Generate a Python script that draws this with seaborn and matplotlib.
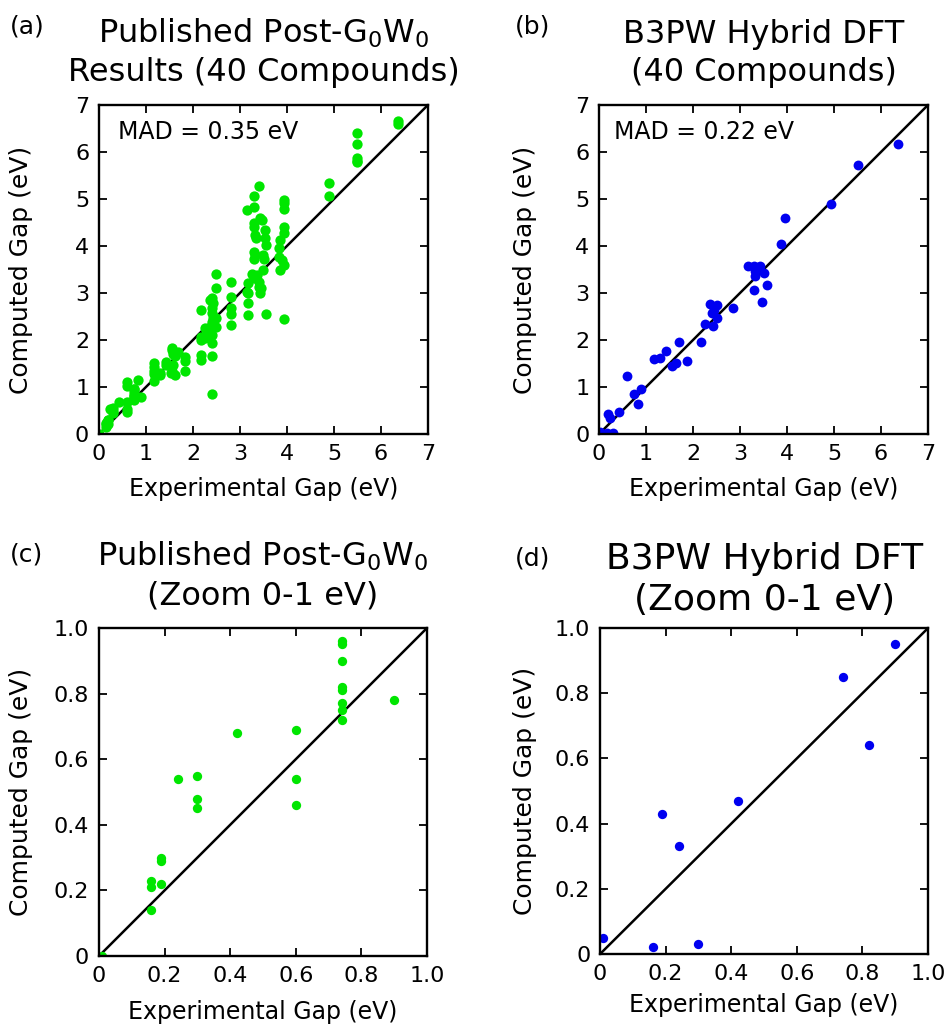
import matplotlib
matplotlib.use("Agg")
import matplotlib.pyplot as plt
import pandas as pd
import seaborn as sns

# published post-G0W0 results: experimental gap vs computed gap (eV)
gw_exp = [
    0.01,
    0.16, 0.16, 0.16,
    0.19, 0.19, 0.19,
    0.24,
    0.30, 0.30, 0.30,
    0.42,
    0.60, 0.60, 0.60, 0.60, 0.60,
    0.74, 0.74, 0.74, 0.74, 0.74, 0.74, 0.74, 0.74,
    0.82,
    0.90,
    1.17, 1.17, 1.17, 1.17, 1.17,
    1.30, 1.30,
    1.43, 1.43,
    1.55, 1.55, 1.57, 1.58, 1.55, 1.53,
    1.62, 1.62,
    1.69,
    1.84, 1.84, 1.84,
    2.17, 2.17, 2.17, 2.17, 2.17,
    2.26,
    2.40, 2.36, 2.42, 2.40, 2.40, 2.42, 2.40, 2.38, 2.35, 2.40, 2.40, 2.40, 2.40, 2.30, 2.26,
    2.49, 2.49, 2.49, 2.49,
    2.82, 2.82, 2.82, 2.82, 2.82,
    3.15, 3.18, 3.14, 3.18, 3.18, 3.18,
    3.30, 3.30, 3.30, 3.30, 3.32, 3.35, 3.30, 3.32, 3.30, 3.30, 3.36, 3.40, 3.25,
    3.41, 3.43, 3.46, 3.40, 3.44, 3.42,
    3.53, 3.53, 3.55, 3.50, 3.52, 3.50, 3.55,
    3.94, 3.94, 3.94, 3.94, 3.94, 3.85, 3.84, 3.84, 3.90, 3.94, 3.85, 3.94,
    4.90, 4.90,
    5.50, 5.50, 5.50, 5.50, 5.50,
    6.37, 6.37,
]
gw_calc = [
    0.00,
    0.14, 0.21, 0.23,
    0.22, 0.29, 0.30,
    0.54,
    0.55, 0.48, 0.45,
    0.68,
    0.69, 0.54, 0.46, 1.03, 1.10,
    0.96, 0.95, 0.90, 0.82, 0.81, 0.77, 0.75, 0.72,
    1.15,
    0.78,
    1.13, 1.28, 1.35, 1.42, 1.52,
    1.30, 1.26,
    1.54, 1.47,
    1.82, 1.79, 1.70, 1.47, 1.33, 1.29,
    1.65, 1.26,
    1.74,
    1.63, 1.55, 1.33,
    2.64, 2.07, 2.01, 1.68, 1.57,
    2.25,
    2.89, 2.85, 2.79, 2.68, 2.57, 2.47, 2.38, 2.28, 2.21, 2.11, 1.94, 1.65, 0.85, 2.15, 2.05,
    3.40, 3.10, 2.47, 2.28,
    3.24, 2.92, 2.67, 2.55, 2.32,
    4.77, 3.21, 3.03, 2.99, 2.78, 2.53,
    5.06, 4.82, 4.48, 4.41, 4.23, 4.16, 3.88, 3.81, 3.72, 3.31, 3.38, 3.24, 3.40,
    5.28, 4.59, 4.55, 3.13, 3.10, 3.00,
    4.35, 4.16, 4.02, 3.80, 3.72, 3.49, 2.55,
    4.98, 4.92, 4.78, 4.40, 4.28, 4.13, 3.95, 3.77, 3.70, 3.60, 3.49, 2.44,
    5.35, 5.07,
    6.40, 6.16, 5.88, 5.81, 5.78,
    6.66, 6.59,
]

# B3PW hybrid DFT, one point per compound
b3pw_exp = [0.01, 0.16, 0.30, 0.19, 0.24, 0.42, 0.60, 0.74, 0.82, 0.90,
            1.18, 1.30, 1.43, 1.55, 1.63, 1.71, 1.87, 2.18, 2.26, 2.36,
            2.52, 2.41, 2.44, 2.52, 2.42, 2.84, 3.18, 3.30, 3.42, 3.32,
            3.32, 3.52, 3.57, 3.30, 3.47, 3.87, 3.96, 4.93, 5.52, 6.37]
b3pw_calc = [0.05, 0.02, 0.03, 0.43, 0.33, 0.47, 1.23, 0.85, 0.64, 0.95,
             1.59, 1.61, 1.77, 1.45, 1.52, 1.96, 1.55, 1.95, 2.34, 2.76,
             2.74, 2.57, 2.64, 2.46, 2.30, 2.67, 3.58, 3.57, 3.58, 3.47,
             3.37, 3.43, 3.16, 3.06, 2.80, 4.05, 4.60, 4.90, 5.72, 6.18]

full_ticks = [0, 1, 2, 3, 4, 5, 6, 7]
zoom_ticks = [0, 0.2, 0.4, 0.6, 0.8, 1.0]
zoom_labels = ["0", "0.2", "0.4", "0.6", "0.8", "1.0"]

GREEN = "#00e600"
BLUE = "#0000f0"

sns.set_theme(style="ticks")
plt.rcParams["font.family"] = ["DejaVu Sans"]
plt.rcParams["mathtext.fontset"] = "dejavusans"
for key in ["text.color", "axes.labelcolor", "xtick.color", "ytick.color", "axes.edgecolor"]:
    plt.rcParams[key] = "black"

gw_df = pd.DataFrame({"exp": gw_exp, "calc": gw_calc})
b3_df = pd.DataFrame({"exp": b3pw_exp, "calc": b3pw_calc})

fig = plt.figure(figsize=(9.48, 10.26), dpi=100)
ax_a = fig.add_axes([0.1044, 0.577, 0.347, 0.3207])
ax_b = fig.add_axes([0.6319, 0.577, 0.347, 0.3207])
ax_c = fig.add_axes([0.1044, 0.0682, 0.346, 0.3197])
ax_d = fig.add_axes([0.633, 0.0702, 0.346, 0.3177])


def style_axes(ax, lim, ticks, labels, xlab_y, ylab_x):
    ax.plot([0, lim], [0, lim], color="black", lw=1.8, zorder=1)
    ax.set_xlim(0, lim)
    ax.set_ylim(0, lim)
    ax.set_xticks(ticks)
    ax.set_yticks(ticks)
    ax.set_xticklabels(labels)
    ax.set_yticklabels(labels)
    ax.tick_params(direction="in", top=True, right=True, length=6, width=1.3,
                   labelsize=16, pad=7)
    for sp in ax.spines.values():
        sp.set_linewidth(1.7)
    ax.set_xlabel("Experimental Gap (eV)", fontsize=17)
    ax.set_ylabel("Computed Gap (eV)", fontsize=18)
    ax.xaxis.set_label_coords(0.5, xlab_y)
    ax.yaxis.set_label_coords(ylab_x, 0.5)


panels = [
    (ax_a, gw_df, GREEN, 7, 55, -0.13, -0.200),
    (ax_b, b3_df, BLUE, 7, 50, -0.13, -0.188),
    (ax_c, gw_df, GREEN, 1.0, 45, -0.135, -0.200),
    (ax_d, b3_df, BLUE, 1.0, 45, -0.119, -0.192),
]
for ax, df, col, lim, size, xy, yx in panels:
    sns.scatterplot(data=df, x="exp", y="calc", color=col, s=size, linewidth=0,
                    ax=ax, zorder=2)
    if lim == 7:
        style_axes(ax, lim, full_ticks, [str(t) for t in full_ticks], xy, yx)
    else:
        style_axes(ax, lim, zoom_ticks, zoom_labels, xy, yx)

ax_a.text(0.058, 0.918, "MAD = 0.35 eV", transform=ax_a.transAxes, fontsize=17,
          va="center", ha="left")
ax_b.text(0.045, 0.918, "MAD = 0.22 eV", transform=ax_b.transAxes, fontsize=17,
          va="center", ha="left")

ax_a.set_title("Published Post-G$_0$W$_0$\nResults (40 Compounds)", fontsize=23,
               pad=17, linespacing=1.3)
ax_b.set_title("B3PW Hybrid DFT\n(40 Compounds)", fontsize=23, pad=17, linespacing=1.3)
ax_c.set_title("Published Post-G$_0$W$_0$\n(Zoom 0-1 eV)", fontsize=23, pad=17,
               linespacing=1.3)
ax_d.set_title("B3PW Hybrid DFT\n(Zoom 0-1 eV)", fontsize=26, pad=13, linespacing=1.25)

fig.text(0.010, 0.974, "(a)", fontsize=18, va="center")
fig.text(0.543, 0.974, "(b)", fontsize=18, va="center")
fig.text(0.010, 0.460, "(c)", fontsize=18, va="center")
fig.text(0.543, 0.456, "(d)", fontsize=18, va="center")

fig.savefig("out.png", dpi=100)
plt.close(fig)
